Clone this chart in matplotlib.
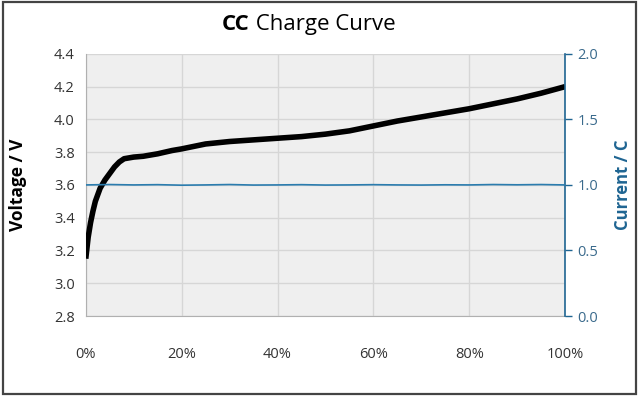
import matplotlib
matplotlib.use("Agg")
import matplotlib.pyplot as plt
from matplotlib.patches import Rectangle

plt.rcParams['font.family'] = ['Open Sans', 'DejaVu Sans']

# Data
soc_pct = [0, 0.5, 1, 1.5, 2, 3, 4, 5, 6, 7, 8, 9, 10, 12, 15, 18, 20, 25, 30, 35, 40,
           45, 50, 55, 60, 65, 70, 75, 80, 85, 90, 95, 100]
voltage = [3.15, 3.28, 3.37, 3.44, 3.50, 3.58, 3.63, 3.67, 3.71, 3.74, 3.76, 3.765, 3.77,
           3.775, 3.79, 3.81, 3.82, 3.85, 3.865, 3.875, 3.885, 3.895, 3.91, 3.93, 3.96,
           3.99, 4.015, 4.04, 4.065, 4.095, 4.125, 4.16, 4.20]
cur_pct = [0, 5, 10, 15, 20, 25, 30, 35, 40, 45, 50, 55, 60, 65, 70, 75, 80, 85, 90, 95, 100]
current = [1.0, 1.003, 1.0, 1.002, 0.998, 1.0, 1.003, 0.999, 1.0, 1.002, 0.999, 1.0, 1.002,
           1.0, 0.999, 1.001, 1.0, 1.003, 1.001, 1.003, 1.0]
x_ticks = [0, 20, 40, 60, 80, 100]
x_labels = ["0%", "20%", "40%", "60%", "80%", "100%"]
v_ticks = [2.8, 3.0, 3.2, 3.4, 3.6, 3.8, 4.0, 4.2, 4.4]
c_ticks = [0.0, 0.5, 1.0, 1.5, 2.0]

blue = '#1f6592'
tick_blue = '#3a6a8c'
line_blue = '#2b7cae'

fig = plt.figure(figsize=(6.4, 3.96), dpi=100)
fig.patches.append(Rectangle((0.004, 0.006), 0.99, 0.988, transform=fig.transFigure,
                             fill=False, edgecolor='#444444', linewidth=1.6))
ax = fig.add_axes([0.134, 0.202, 0.749, 0.662])
ax.set_facecolor('#efefef')
ax.plot(soc_pct, voltage, color='black', linewidth=4, solid_capstyle='butt', zorder=4)
ax.set_xlim(0, 100)
ax.set_ylim(2.8, 4.4)
ax.set_xticks(x_ticks)
ax.set_xticklabels(x_labels)
ax.set_yticks(v_ticks)
ax.set_yticklabels([f"{v:.1f}" for v in v_ticks])
ax.grid(True, color='#d6d6d6', linewidth=1)
ax.set_axisbelow(True)
ax.tick_params(axis='x', length=0, pad=22, labelsize=10.5, labelcolor='#333333')
ax.tick_params(axis='y', length=0, pad=8, labelsize=10.5, labelcolor='#333333')
for s in ['top', 'right']:
    ax.spines[s].set_visible(False)
ax.spines['left'].set_color('#b0b0b0')
ax.spines['bottom'].set_color('#b0b0b0')
ax.set_ylabel('Voltage / V', fontsize=12.5, fontweight='bold')
ax.yaxis.set_label_coords(-0.122, 0.5)

ax2 = ax.twinx()
ax2.plot(cur_pct, current, color=line_blue, linewidth=1.2, zorder=3)
ax2.set_ylim(0, 2.0)
ax2.set_yticks(c_ticks)
ax2.set_yticklabels([f"{c:.1f}" for c in c_ticks])
ax2.tick_params(axis='y', length=5, width=1, color=blue, labelcolor=tick_blue, labelsize=10.5, pad=4)
for s in ['top', 'left', 'bottom']:
    ax2.spines[s].set_visible(False)
ax2.spines['right'].set_color(blue)
ax2.spines['right'].set_linewidth(1.2)
ax2.set_ylabel('Current / C', fontsize=12, fontweight='bold', color=blue)
ax2.yaxis.set_label_coords(1.101, 0.5)

t1 = fig.text(222 / 640, 0.937, 'CC', fontsize=16, fontweight='bold', ha='left', va='center')
ax.annotate(' Charge Curve', xy=(1, 0), xycoords=t1, fontsize=16, ha='left', va='bottom',
            annotation_clip=False)

fig.savefig('out.png', dpi=100)
